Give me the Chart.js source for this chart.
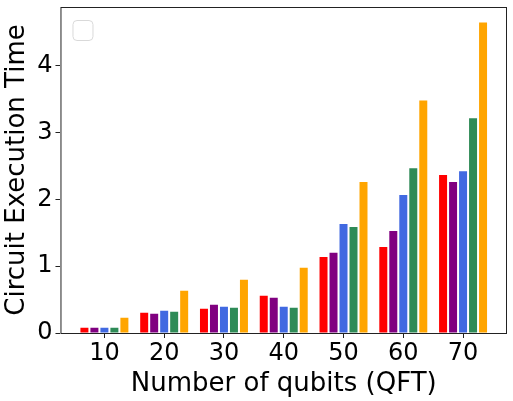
<!DOCTYPE html>
<html>
<head>
<meta charset="utf-8">
<script src="https://cdn.jsdelivr.net/npm/chart.js@4"></script>
<style>
  body { margin: 0; background: #fff; }
  #wrap { width: 513px; height: 401px; }
</style>
</head>
<body>
<div id="wrap"><canvas id="chart" width="513" height="401"></canvas></div>
<script>
// qubit counts on the x axis
const qubits = [10, 20, 30, 40, 50, 60, 70];

// execution time per series
const seriesRed    = [0.079, 0.303, 0.363, 0.557, 1.139, 1.288, 2.363];
const seriesPurple = [0.079, 0.288, 0.423, 0.527, 1.199, 1.527, 2.258];
const seriesBlue   = [0.079, 0.333, 0.393, 0.393, 1.632, 2.064, 2.422];
const seriesGreen  = [0.079, 0.318, 0.378, 0.378, 1.587, 2.467, 3.213];
const seriesOrange = [0.228, 0.631, 0.796, 0.975, 2.258, 3.480, 4.646];

const yTicks = [0, 1, 2, 3, 4];

function toPoints(values) {
    return values.map((v, i) => ({ x: qubits[i], y: v }));
}

// draws the frame around the plot and the empty legend box
const framePlugin = {
    id: 'frame',
    afterDraw(chart) {
        const ctx = chart.ctx;
        const a = chart.chartArea;
        ctx.save();
        ctx.strokeStyle = '#222';
        ctx.lineWidth = 1;
        ctx.strokeRect(a.left + 0.5, a.top + 0.5, a.right - a.left - 1, a.bottom - a.top);
        // empty legend
        const x = a.left + 12, y = a.top + 13, w = 20, h = 20, r = 4;
        ctx.strokeStyle = '#d9d9d9';
        ctx.fillStyle = 'rgba(255,255,255,0.8)';
        ctx.beginPath();
        ctx.roundRect(x + 0.5, y + 0.5, w, h, r);
        ctx.fill();
        ctx.stroke();
        ctx.restore();
    }
};

const colors = ['red', 'purple', 'royalblue', 'seagreen', 'orange'];
const allSeries = [seriesRed, seriesPurple, seriesBlue, seriesGreen, seriesOrange];

new Chart(document.getElementById('chart'), {
    type: 'bar',
    data: {
        datasets: allSeries.map((s, i) => ({
            data: toPoints(s),
            backgroundColor: colors[i],
            borderWidth: 0,
            categoryPercentage: 0.836,
            barPercentage: 0.8,
        })),
    },
    plugins: [framePlugin],
    options: {
        responsive: false,
        animation: false,
        layout: { padding: { top: 7, right: 6, left: 2, bottom: 1 } },
        plugins: {
            legend: { display: false },
            tooltip: { enabled: false },
        },
        scales: {
            x: {
                type: 'linear',
                min: 2.65,
                max: 77.35,
                offset: false,
                afterBuildTicks: (axis) => { axis.ticks = qubits.map((v) => ({ value: v })); },
                grid: { offset: false, drawOnChartArea: false, tickLength: 5, color: '#222', tickColor: '#222' },
                border: { display: false },
                ticks: { color: '#000', font: { family: 'DejaVu Sans', size: 24 }, padding: 1, maxRotation: 0 },
                title: { display: true, text: 'Number of qubits (QFT)', color: '#000', font: { family: 'DejaVu Sans', size: 26 }, padding: { top: 0, bottom: 0 } },
            },
            y: {
                min: 0,
                max: 4.878,
                afterBuildTicks: (axis) => { axis.ticks = yTicks.map((v) => ({ value: v })); },
                afterFit: (axis) => { axis.paddingTop = 0; },
                grid: { drawOnChartArea: false, tickLength: 5, color: '#222', tickColor: '#222' },
                border: { display: false },
                ticks: { color: '#000', font: { family: 'DejaVu Sans', size: 24 }, padding: 3 },
                title: { display: true, text: 'Circuit Execution Time', color: '#000', font: { family: 'DejaVu Sans', size: 26 }, padding: { top: 0, bottom: 1 } },
            },
        },
    },
});
</script>
</body>
</html>
